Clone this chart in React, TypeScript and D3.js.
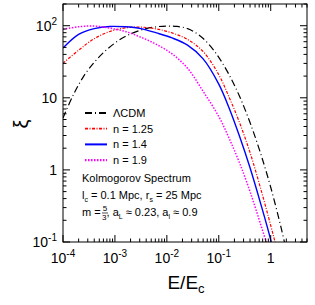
import * as d3 from "d3";

// x axis values (E/Ec) and y values (xi)
const lcdmE = [1e-4, 1.58e-4, 2.51e-4, 3.98e-4, 6.31e-4, 1e-3, 1.58e-3, 2.51e-3, 3.98e-3, 6.31e-3, 1e-2, 1.58e-2, 2.51e-2, 3.98e-2, 6.31e-2, 0.1, 0.158, 0.251, 0.398, 0.631, 1, 1.585, 2.0];
const lcdmXi = [5.25, 11.0, 20.0, 30.9, 43.7, 57.5, 70.8, 82.2, 91.2, 96.6, 98.9, 97.7, 91.2, 75.9, 56.2, 36.3, 20.9, 10.5, 4.57, 1.74, 0.575, 0.158, 0.076];

const gridE = [1e-4, 2e-4, 4e-4, 8e-4, 1.58e-3, 3.16e-3, 6.3e-3, 1.26e-2, 2.5e-2, 5e-2, 0.1, 0.158, 0.25, 0.4, 0.63, 1, 1.26, 1.58];

const n125E = gridE.slice(0, 18);
const n125Xi = [30.2, 45.7, 66.1, 83.2, 93.3, 95.5, 90.2, 79.4, 64.6, 43.7, 20.9, 10.2, 4.57, 1.74, 0.575, 0.17, 0.089, 0.045];

const n14E = gridE.slice(0, 17).concat([1.58]);
const n14Xi = [49, 75.9, 91.2, 97.7, 96.6, 91.2, 79.4, 67.6, 53.7, 34.7, 15.5, 7.24, 2.95, 1.07, 0.355, 0.107, 0.05, 0.032];

const n19E = gridE.slice(0, 16);
const n19Xi = [89.1, 96.6, 98.9, 92.3, 83.2, 69.2, 55, 40.7, 25.7, 12.3, 5.5, 2.75, 1.26, 0.5, 0.182, 0.063];

const xMajor = [1e-4, 1e-3, 1e-2, 1e-1, 1];
const xLabels = [["10", "-4"], ["10", "-3"], ["10", "-2"], ["10", "-1"], ["1", ""]];
const yMajor = [0.1, 1, 10, 100];
const yLabels = [["10", "-1"], ["1", ""], ["10", ""], ["10", "2"]];

const series = [
  { name: "ΛCDM", e: lcdmE, xi: lcdmXi, color: "#000000", dash: "7,3,1,3", width: 1.2 },
  { name: "n = 1.25", e: n125E, xi: n125Xi, color: "#ff0000", dash: "3,1.5,1,1.5", width: 1.2 },
  { name: "n = 1.4", e: n14E, xi: n14Xi, color: "#0000ff", dash: "", width: 1.4 },
  { name: "n = 1.9", e: n19E, xi: n19Xi, color: "#ff00ff", dash: "1.5,1.5", width: 1.5 },
];

const L = 63, R = 307, T = 4, B = 242;
const font = "'Liberation Sans', Arial, Helvetica, sans-serif";

export default function App() {
  const x = d3.scaleLog().domain([1e-4, 5]).range([L, R]);
  const y = d3.scaleLog().domain([0.1, 200]).range([B, T]);
  const line = d3
    .line<[number, number]>()
    .x((d) => x(d[0]))
    .y((d) => y(d[1]))
    .curve(d3.curveCatmullRom.alpha(0.5));

  const xMinor: number[] = [];
  for (let p = -4; p <= 0; p++)
    for (let k = 2; k <= 9; k++) {
      const v = k * Math.pow(10, p);
      if (v <= 5) xMinor.push(v);
    }
  const yMinor: number[] = [];
  for (let p = -1; p <= 2; p++)
    for (let k = 2; k <= 9; k++) {
      const v = k * Math.pow(10, p);
      if (v <= 200) yMinor.push(v);
    }

  return (
    <svg width={315} height={305} style={{ position: "absolute", left: 0, top: 0, background: "#fff" }} fontFamily={font}>
      <defs>
        <clipPath id="plot">
          <rect x={L} y={T} width={R - L} height={B - T} />
        </clipPath>
      </defs>
      <rect x={0} y={0} width={315} height={305} fill="#fff" />
      <g clipPath="url(#plot)">
        {series.map((s) => (
          <path
            key={s.name}
            d={line(s.e.map((e, i) => [e, s.xi[i]] as [number, number])) || ""}
            fill="none"
            stroke={s.color}
            strokeWidth={s.width}
            strokeDasharray={s.dash}
          />
        ))}
      </g>
      <rect x={L} y={T} width={R - L} height={B - T} fill="none" stroke="#000" strokeWidth={1} />
      {/* x ticks */}
      {xMajor.map((v) => (
        <g key={"xM" + v}>
          <line x1={x(v)} x2={x(v)} y1={B} y2={B - 7} stroke="#000" />
          <line x1={x(v)} x2={x(v)} y1={T} y2={T + 7} stroke="#000" />
        </g>
      ))}
      {xMinor.map((v) => (
        <g key={"xm" + v}>
          <line x1={x(v)} x2={x(v)} y1={B} y2={B - 3.5} stroke="#000" />
          <line x1={x(v)} x2={x(v)} y1={T} y2={T + 3.5} stroke="#000" />
        </g>
      ))}
      {/* y ticks */}
      {yMajor.map((v) => (
        <g key={"yM" + v}>
          <line x1={L} x2={L + 7} y1={y(v)} y2={y(v)} stroke="#000" />
          <line x1={R} x2={R - 7} y1={y(v)} y2={y(v)} stroke="#000" />
        </g>
      ))}
      {yMinor.map((v) => (
        <g key={"ym" + v}>
          <line x1={L} x2={L + 3.5} y1={y(v)} y2={y(v)} stroke="#000" />
          <line x1={R} x2={R - 3.5} y1={y(v)} y2={y(v)} stroke="#000" />
        </g>
      ))}
      {/* x labels */}
      {xMajor.map((v, i) => (
        <text key={"xl" + v} x={x(v)} y={263} fontSize={14} textAnchor="middle" fill="#000">
          {xLabels[i][0]}
          {xLabels[i][1] && (
            <tspan fontSize={10} dy={-6}>
              {xLabels[i][1]}
            </tspan>
          )}
        </text>
      ))}
      {/* y labels */}
      {yMajor.map((v, i) => (
        <text key={"yl" + v} x={57} y={y(v) + 5} fontSize={14} textAnchor="end" fill="#000">
          {yLabels[i][0]}
          {yLabels[i][1] && (
            <tspan fontSize={10} dy={-6}>
              {yLabels[i][1]}
            </tspan>
          )}
        </text>
      ))}
      <text x={186} y={289} fontSize={19} textAnchor="middle" fill="#000">
        E/E<tspan fontSize={13} dy={4}>c</tspan>
      </text>
      <g transform="translate(28,124) rotate(-90)">
        <text x={0} y={0} fontSize={20} textAnchor="middle" fill="#000">
          ξ
        </text>
      </g>
      {/* legend */}
      {series.map((s, i) => (
        <g key={"lg" + s.name}>
          <line
            x1={85}
            x2={107}
            y1={113 + i * 15.7}
            y2={113 + i * 15.7}
            stroke={s.color}
            strokeWidth={s.width + 0.6}
            strokeDasharray={s.dash}
          />
          <text x={113} y={113 + i * 15.7 + 4} fontSize={11} fill="#000">
            {s.name}
          </text>
        </g>
      ))}
      <text x={82} y={182} fontSize={11} fill="#000">
        Kolmogorov Spectrum
      </text>
      <text x={82} y={199} fontSize={11} fill="#000">
        l<tspan fontSize={7} dy={3}>c</tspan>
        <tspan dy={-3}> = 0.1 Mpc, r</tspan>
        <tspan fontSize={7} dy={3}>s</tspan>
        <tspan dy={-3}> = 25 Mpc</tspan>
      </text>
      <text x={82} y={216} fontSize={11} fill="#000">
        m =
        <tspan dx={2} fontSize={8} dy={-5}>5</tspan>
        <tspan dx={-5} fontSize={8} dy={9}>3</tspan>
        <tspan dy={-4}>, a</tspan>
        <tspan fontSize={7} dy={3}>L</tspan>
        <tspan dy={-3}> ≈ 0.23, a</tspan>
        <tspan fontSize={7} dy={3}>l</tspan>
        <tspan dy={-3}> ≈ 0.9</tspan>
      </text>
      <line x1={102} x2={108} y1={213} y2={213} stroke="#000" strokeWidth={0.7} />
    </svg>
  );
}
